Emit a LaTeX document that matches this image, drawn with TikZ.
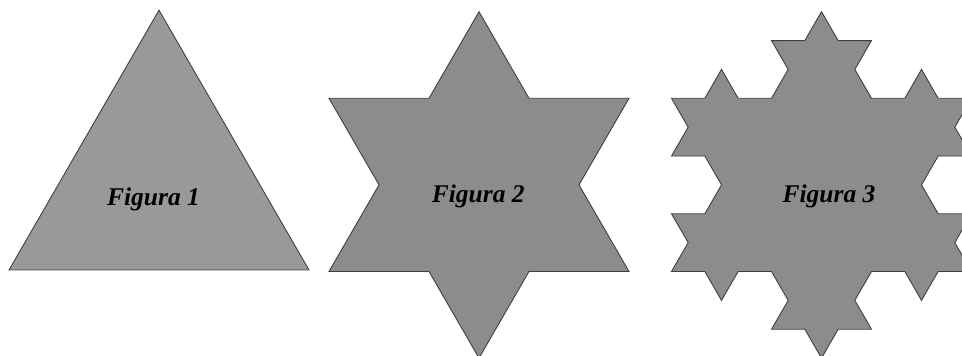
\documentclass[tikz,border=0pt]{standalone}
\usepackage{fontspec}
\setmainfont{Liberation Serif}
\begin{document}
\begin{tikzpicture}[x=1pt,y=1pt,
  shapeline/.style={draw=black!75, line width=0.9pt, line join=miter},
  figlabel/.style={font=\fontsize{25.5}{30}\selectfont\bfseries\itshape, anchor=base, inner sep=0pt}]
\useasboundingbox (0,0) rectangle (962,356);
\def\side{300}
% Figura 1: triangle
\coordinate (t0) at (9,86);
\draw[shapeline, fill=black!40] (t0) -- ++(60:\side) -- ++(-60:\side) -- ++(180:\side) -- cycle;
% Figura 2: first iteration
\coordinate (s0) at (329,84.5);
\draw[shapeline, fill=black!45] (s0)
  \foreach \d in {60,-60,180} { \foreach \e in {0,60,-60,0} { -- ++({\d+\e}:{\side/3}) } } -- cycle;
% Figura 3: second iteration
\coordinate (k0) at (671.5,84.5);
\draw[shapeline, fill=black!45] (k0)
  \foreach \d in {60,-60,180} { \foreach \e in {0,60,-60,0} { \foreach \f in {0,60,-60,0} { -- ++({\d+\e+\f}:{\side/9}) } } } -- cycle;
\node[figlabel] (l1) at (153.5,150) {Figura 1};
\node[figlabel] (l2) at (478.3,153) {Figura 2};
\node[figlabel] (l3) at (829,153) {Figura 3};
\end{tikzpicture}
\end{document}
